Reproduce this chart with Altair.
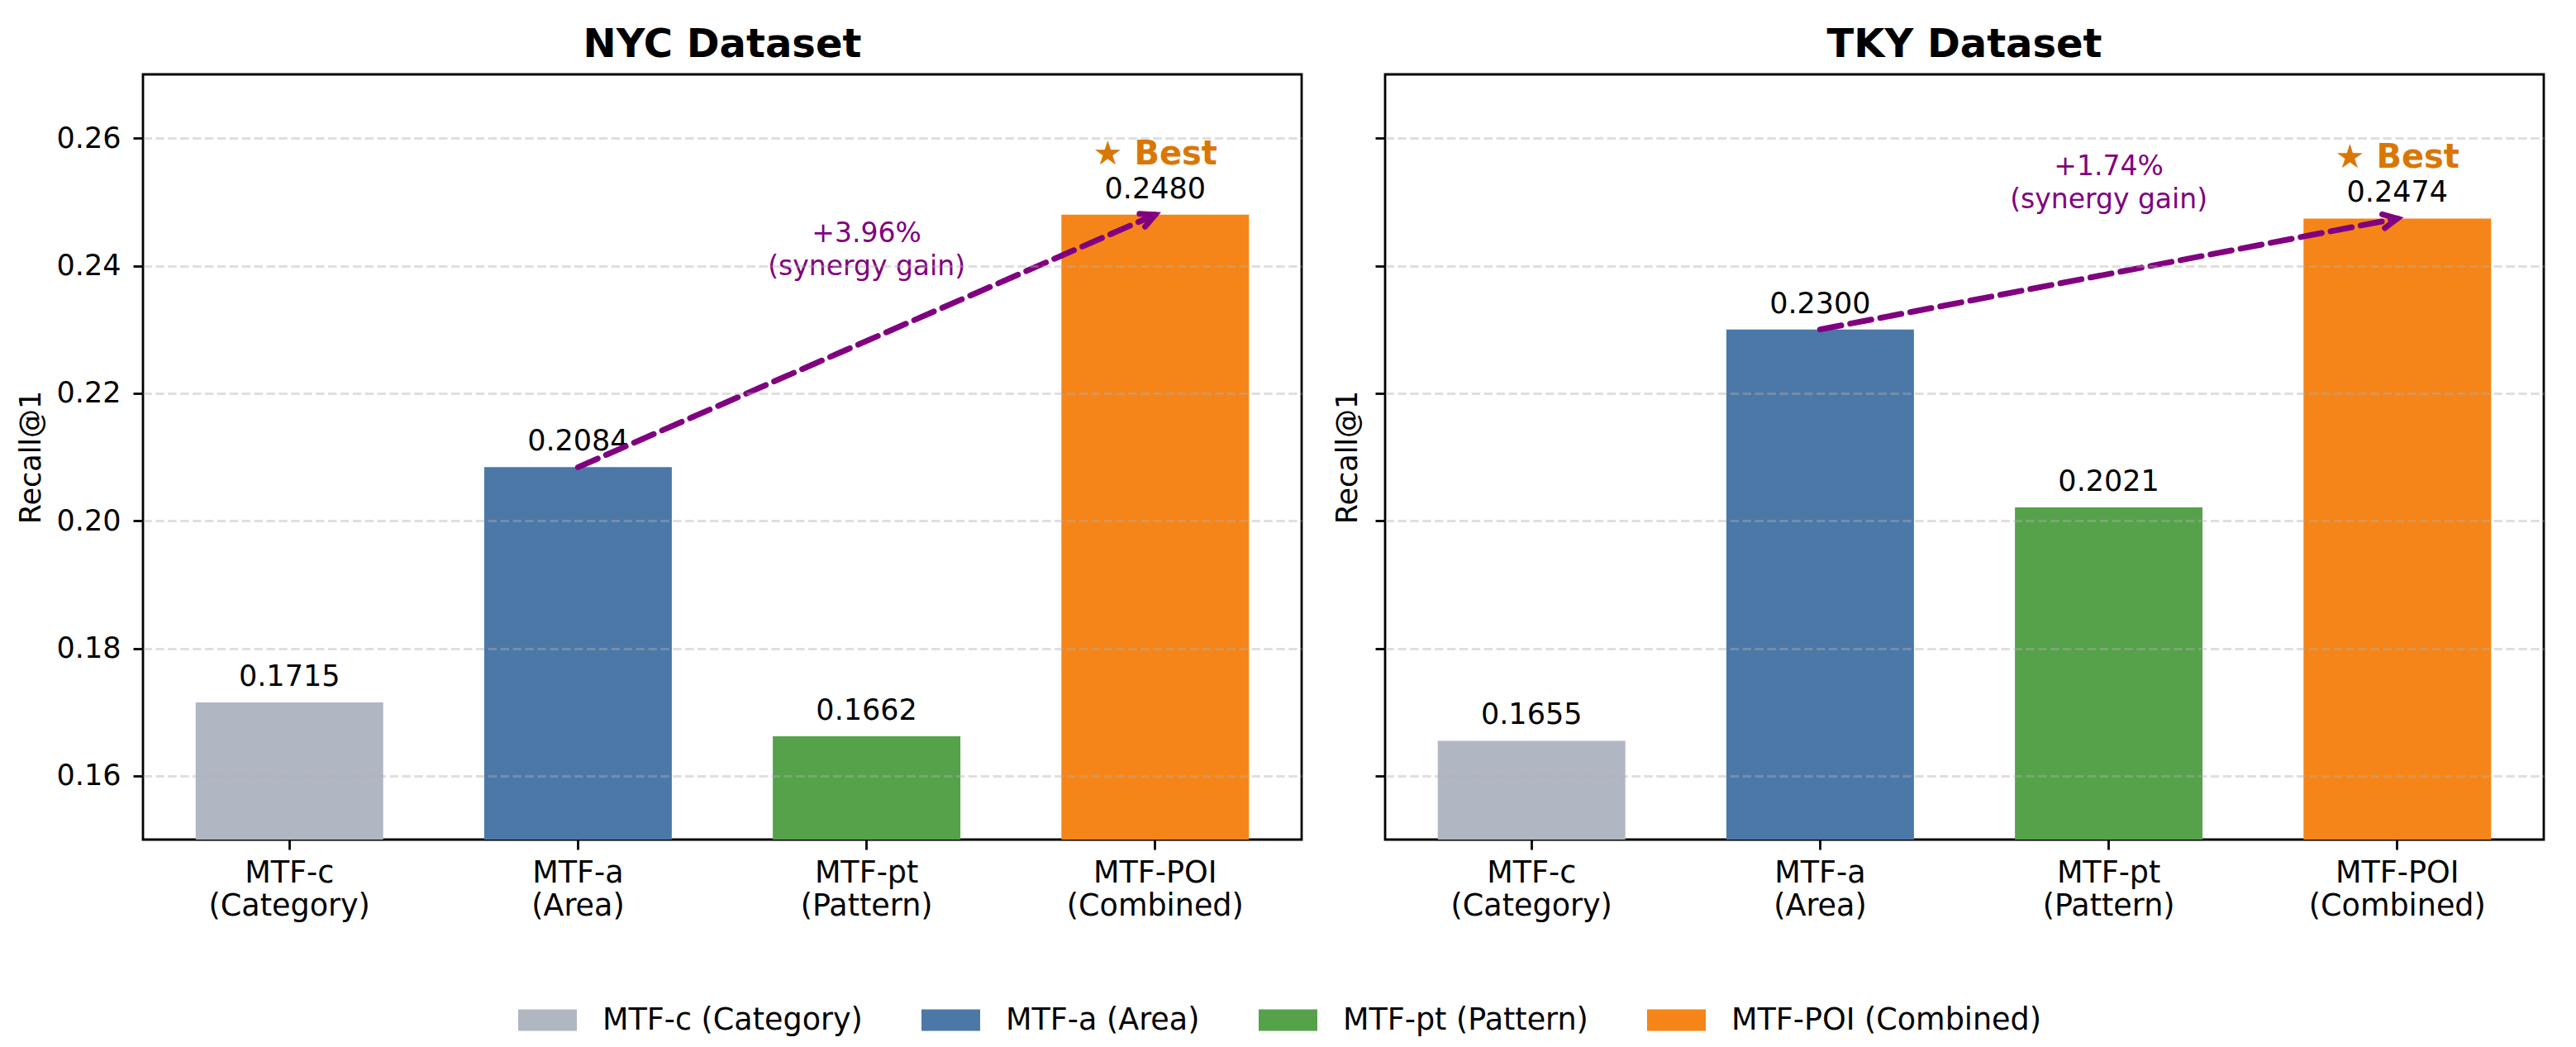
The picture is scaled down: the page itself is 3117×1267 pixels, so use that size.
import math
import altair as alt
import pandas as pd

# ---------------- data ----------------
categories = ["MTF-c (Category)", "MTF-a (Area)", "MTF-pt (Pattern)", "MTF-POI (Combined)"]
bar_colors = ["#B0B7C3", "#4C78A8", "#55A24A", "#F58518"]
dataset_titles = ["NYC Dataset", "TKY Dataset"]
nyc_recall = [0.1715, 0.2084, 0.1662, 0.2480]
tky_recall = [0.1655, 0.2300, 0.2021, 0.2474]
y_ticks = [0.16, 0.18, 0.20, 0.22, 0.24, 0.26]
y_domain = [0.15, 0.27]
best_text = "★ Best"
gain_note = "(synergy gain)"

# ---------------- style ----------------
W, H = 1402, 926
PAD_IN, PAD_OUT = 0.35, 0.1825
FONT = "DejaVu Sans"
PURPLE = "#800080"
BEST_COLOR = "#D97706"
ARROW_HEAD = "M-1,-0.5L0,0L-1,0.5"
LEGEND_RECT = "M-1,-0.366L1,-0.366L1,0.366L-1,0.366Z"


def panel(title, values, show_labels, title_pad):
    df = pd.DataFrame({
        "cat": categories,
        "value": values,
        "label": [f"{v:.4f}" for v in values],
    })
    x_enc = alt.X(
        "cat:N",
        sort=categories,
        scale=alt.Scale(paddingInner=PAD_IN, paddingOuter=PAD_OUT),
        axis=alt.Axis(
            title=None,
            labelAngle=0,
            labelExpr="split(datum.label, ' ')",
            labelFontSize=36.5,
            labelLineHeight=40,
            labelPadding=10,
            labelLimit=600,
            labelColor="black",
            tickSize=12,
            tickWidth=2.8,
            tickColor="black",
            domain=False,
            grid=False,
        ),
    )
    y_scale = alt.Scale(domain=y_domain, nice=False, zero=False)
    y_axis = alt.Axis(
        values=y_ticks,
        format=".2f",
        title="Recall@1",
        titleFontSize=35,
        titleFontWeight="normal",
        titleColor="black",
        titlePadding=title_pad,
        labels=show_labels,
        labelFontSize=35,
        labelPadding=15,
        labelColor="black",
        tickSize=12,
        tickWidth=2.8,
        tickColor="black",
        domain=False,
        grid=True,
        gridColor="#b0b0b0",
        gridOpacity=0.4,
        gridDash=[10.4, 4.5],
        gridWidth=2.8,
        zindex=1,
    )
    base = alt.Chart(df)
    bars = base.mark_bar().encode(
        x=x_enc,
        y=alt.Y("value:Q", scale=y_scale, axis=y_axis),
        y2=alt.datum(y_domain[0]),
        color=alt.Color(
            "cat:N",
            sort=categories,
            scale=alt.Scale(domain=categories, range=bar_colors),
            legend=alt.Legend(
                title=None,
                orient="none",
                direction="horizontal",
                legendX=454,
                legendY=1109,
                symbolType=LEGEND_RECT,
                symbolSize=5041,
                symbolStrokeWidth=0,
                symbolOpacity=1,
                labelFontSize=36.5,
                labelOffset=31,
                labelLimit=600,
                labelColor="black",
                columnPadding=71,
            ),
        ),
    )
    labels = base.mark_text(
        baseline="alphabetic", dy=-20, fontSize=35, color="black"
    ).encode(
        x=alt.X("cat:N", sort=categories),
        y=alt.Y("value:Q"),
        text="label:N",
    )

    a_val, poi_val = values[1], values[3]
    best_df = pd.DataFrame({"cat": [categories[3]], "value": [poi_val], "t": [best_text]})
    best = alt.Chart(best_df).mark_text(
        baseline="alphabetic", dy=-61, fontSize=40, fontWeight="bold", color=BEST_COLOR
    ).encode(x=alt.X("cat:N", sort=categories), y="value:Q", text="t:N")

    line_df = pd.DataFrame({"cat": [categories[1], categories[3]], "value": [a_val, poi_val]})
    line = alt.Chart(line_df).mark_line(
        color=PURPLE, strokeWidth=7, strokeDash=[26, 11], strokeCap="round"
    ).encode(x=alt.X("cat:N", sort=categories), y="value:Q")

    step = W / (len(categories) - PAD_IN + 2 * PAD_OUT)
    dx = 2 * step
    dy = (poi_val - a_val) / (y_domain[1] - y_domain[0]) * H
    theta = math.degrees(math.atan2(dy, dx))
    head_df = pd.DataFrame({"cat": [categories[3]], "value": [poi_val]})
    head = alt.Chart(head_df).mark_point(
        shape=ARROW_HEAD, size=1150, filled=False, stroke=PURPLE, strokeWidth=7,
        angle=360 - theta, opacity=1, strokeCap="round", strokeJoin="miter",
    ).encode(x=alt.X("cat:N", sort=categories), y="value:Q")

    gain = (poi_val - a_val) * 100
    note_df = pd.DataFrame({
        "cat": [categories[2]],
        "value": [(a_val + poi_val) / 2 + 0.015],
        "t": [f"+{gain:.2f}%\n{gain_note}"],
    })
    note = alt.Chart(note_df).mark_text(
        baseline="middle", align="center", fontSize=33, lineHeight=40,
        lineBreak="\n", color=PURPLE, dy=-14,
    ).encode(x=alt.X("cat:N", sort=categories), y="value:Q", text="t:N")

    return alt.layer(bars, labels, best, line, head, note).properties(
        width=W,
        height=H,
        title=alt.TitleParams(
            title, fontSize=48, fontWeight="bold", offset=11, anchor="middle",
            color="black", font=FONT,
        ),
    )


nyc = panel(dataset_titles[0], nyc_recall, True, 13)
tky = panel(dataset_titles[1], tky_recall, False, 14)

chart = (
    alt.hconcat(nyc, tky, spacing=35)
    .properties(padding={"left": 10, "top": 21, "right": 10, "bottom": 10})
    .configure(font=FONT)
    .configure_view(stroke="black", strokeWidth=2.8)
)

chart.save("out.html", embed_options={"renderer": "svg", "actions": False})
